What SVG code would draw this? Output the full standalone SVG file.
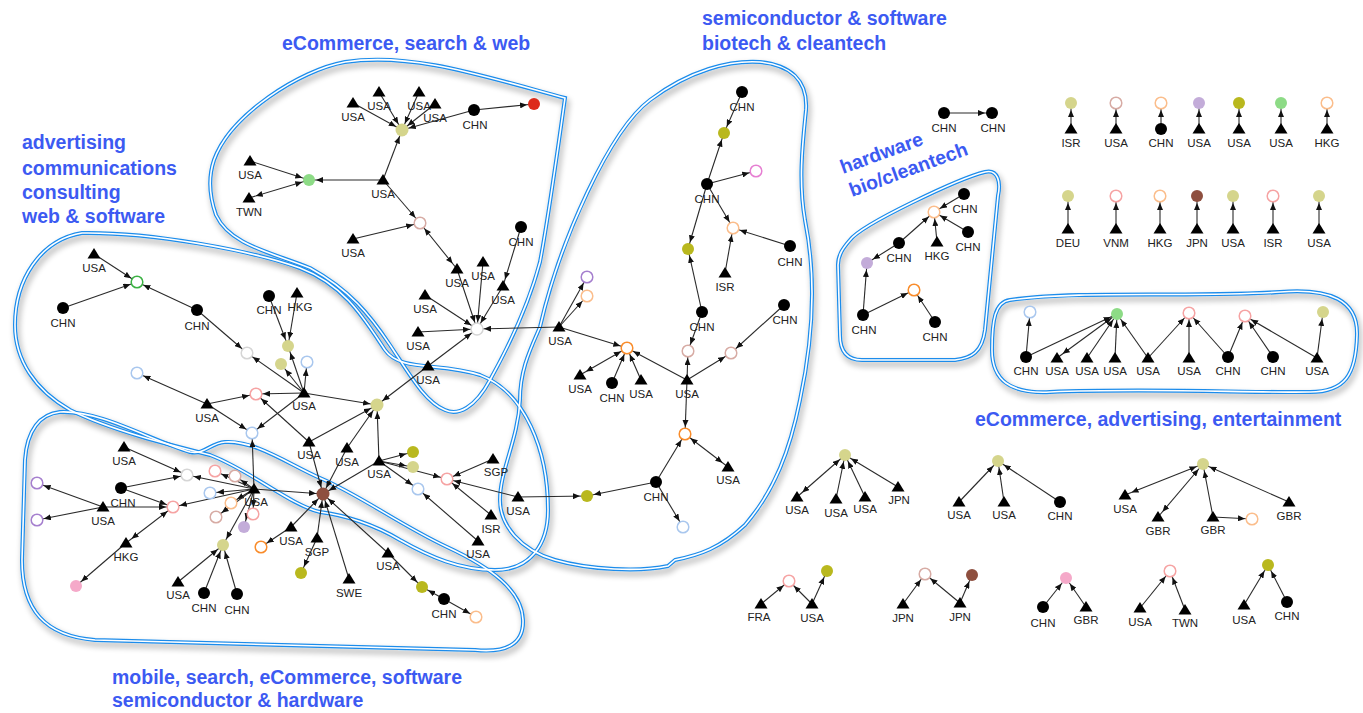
<svg xmlns="http://www.w3.org/2000/svg" xmlns:xlink="http://www.w3.org/1999/xlink" width="1363" height="713" viewBox="0 0 1363 713">
<style>
.ed line{stroke:#2a2a2a;stroke-width:1.1;marker-end:url(#ar)}
.ed line.b{marker-start:url(#ar2)}
.l{font-family:"Liberation Sans",Arial,sans-serif;font-size:11.5px;fill:#222;text-anchor:middle}
.h{font-family:"Liberation Sans",Arial,sans-serif;font-weight:bold;font-size:19.5px;fill:#3c5af2}
.bo{fill:none;stroke:#1b8ceb;stroke-width:4}
.bw{fill:none;stroke:#fff;stroke-width:1.6}
.k{fill:#000}
.r{fill:#fff;stroke-width:1.5}
.kh{fill:#d5d58c}.ol{fill:#b9b81e}.gf{fill:#8ddb86}.rd{fill:#dd2a1a}.br{fill:#8e4f3f}.pf{fill:#f5a9c9}.uf{fill:#c3acd9}
.gr{stroke:#3bb143}.pb{stroke:#d7aba4}.pk{stroke:#f6a3a3}.mg{stroke:#e67fd2}.or{stroke:#f98c2b}.po{stroke:#fbbd8b}.pu{stroke:#a57fce}.bl{stroke:#a9c7ee}.lg{stroke:#d5d5d5}
</style>
<defs>
<marker id="ar" markerUnits="userSpaceOnUse" markerWidth="7" markerHeight="6" refX="14" refY="3" orient="auto"><path d="M0,0 L7,3 L0,6 Z" fill="#111"/></marker>
<marker id="ar2" markerUnits="userSpaceOnUse" markerWidth="7" markerHeight="6" refX="14" refY="3" orient="auto-start-reverse"><path d="M0,0 L7,3 L0,6 Z" fill="#111"/></marker>
<path id="T" d="M0,-6 L6.5,4.5 L-6.5,4.5 Z" fill="#000"/>
<path id="pE" d="M214 160 C230 115 300 70 345 62 C410 52 480 75 565 98 C555 170 548 220 540 262 C530 300 515 335 490 380 C475 408 458 416 445 410 C425 402 410 375 390 345 C370 315 350 290 310 268 C270 252 230 245 216 215 C210 198 208 178 214 160 Z"/>
<path id="pA" d="M82 233 C150 232 250 250 300 268 C345 285 365 320 385 350 C400 372 440 362 480 375 C525 392 548 450 548 510 C548 545 530 570 495 570 C460 570 430 557 400 540 C375 525 345 515 320 512 C290 505 250 470 210 455 C170 445 110 430 70 410 C35 390 15 360 15 325 C15 280 40 240 82 233 Z"/>
<path id="pM" d="M60 412 C100 410 150 440 190 452 C205 455 210 443 225 442 C255 440 290 465 320 478 C360 495 400 525 447 547 C490 567 522 590 523 620 C524 645 505 653 475 650 L95 640 C45 636 22 610 22 560 L25 460 C27 430 40 414 60 412 Z"/>
<path id="pS" d="M540 327 C560 240 610 130 650 100 C690 70 730 60 760 62 C790 65 808 80 806 110 C803 140 798 180 805 220 C815 270 815 330 800 400 C790 450 775 490 745 525 C720 548 700 555 675 560 L668 566 C640 572 590 570 555 560 C520 550 500 525 500 500 C500 470 518 440 520 400 C520 370 530 350 540 327 Z"/>
<path id="pH" d="M850 240 C862 224 960 178 985 172 C998 169 1001 182 998 196 L985 330 C982 352 972 358 955 360 L862 360 C846 360 840 350 840 335 L838 265 C838 255 843 248 850 240 Z"/>
<path id="pX" d="M1010 300 C1080 290 1200 298 1280 292 C1330 288 1358 300 1357 335 C1356 375 1345 392 1310 392 C1250 393 1150 388 1050 392 C1010 394 992 380 992 350 C992 320 995 302 1010 300 Z"/>
<filter id="sh" x="-10%" y="-10%" width="120%" height="120%"><feGaussianBlur in="SourceAlpha" stdDeviation="3"/><feOffset dx="2" dy="4" result="o"/><feComponentTransfer><feFuncA type="linear" slope="0.35"/></feComponentTransfer><feMerge><feMergeNode/><feMergeNode in="SourceGraphic"/></feMerge></filter>
</defs>
<rect width="1363" height="713" fill="#fff"/>

<g id="bubbles">
<g filter="url(#sh)">
<use href="#pE" class="bo"/>
<use href="#pA" class="bo"/>
<use href="#pM" class="bo"/>
<use href="#pS" class="bo"/>
<use href="#pH" class="bo"/>
<use href="#pX" class="bo"/>
</g>
<use href="#pE" class="bw"/>
<use href="#pA" class="bw"/>
<use href="#pM" class="bw"/>
<use href="#pS" class="bw"/>
<use href="#pH" class="bw"/>
<use href="#pX" class="bw"/>
</g>

<g id="headings">
<text class="h" x="282" y="50">eCommerce, search &amp; web</text>
<text class="h" x="702" y="25">semiconductor &amp; software</text>
<text class="h" x="702" y="50">biotech &amp; cleantech</text>
<text class="h" x="22" y="149">advertising</text>
<text class="h" x="22" y="175">communications</text>
<text class="h" x="22" y="199">consulting</text>
<text class="h" x="22" y="223">web &amp; software</text>
<text class="h" x="112" y="684">mobile, search, eCommerce, software</text>
<text class="h" x="112" y="707">semiconductor &amp; hardware</text>
<text class="h" x="975" y="426">eCommerce, advertising, entertainment</text>
<text class="h" x="843" y="174" transform="rotate(-20 843 174)">hardware</text>
<text class="h" x="852" y="197" transform="rotate(-20 852 197)">bio/cleantech</text>
</g>

<g class="ed" id="connectors">
<line x1="353" y1="103" x2="402" y2="130"/>
<line x1="379" y1="92" x2="402" y2="130"/>
<line x1="419" y1="92" x2="402" y2="130"/>
<line x1="435" y1="104" x2="402" y2="130"/>
<line x1="474" y1="110" x2="402" y2="130"/>
<line x1="474" y1="110" x2="534" y2="104"/>
<line x1="383" y1="180" x2="402" y2="130"/>
<line x1="383" y1="180" x2="309" y2="180"/>
<line x1="250" y1="161" x2="309" y2="180"/>
<line class="b" x1="249" y1="198" x2="309" y2="180"/>
<line x1="383" y1="180" x2="420" y2="223"/>
<line x1="353" y1="239" x2="420" y2="223"/>
<line class="b" x1="457" y1="269" x2="420" y2="223"/>
<line x1="521" y1="227" x2="503" y2="286"/>
<line x1="457" y1="269" x2="477" y2="329"/>
<line x1="483" y1="262" x2="477" y2="329"/>
<line x1="503" y1="286" x2="477" y2="329"/>
<line x1="425" y1="295" x2="477" y2="329"/>
<line x1="418" y1="332" x2="477" y2="329"/>
<line x1="428" y1="366" x2="477" y2="329"/>
<line x1="559" y1="327" x2="477" y2="329"/>
<line x1="428" y1="366" x2="377" y2="405"/>

<line x1="94" y1="254" x2="137" y2="282"/>
<line x1="63" y1="308" x2="137" y2="282"/>
<line x1="197" y1="310" x2="137" y2="282"/>
<line x1="197" y1="310" x2="247" y2="353"/>
<line x1="269" y1="296" x2="288" y2="346"/>
<line x1="297" y1="293" x2="288" y2="346"/>
<line x1="304" y1="393" x2="247" y2="353"/>
<line x1="304" y1="393" x2="288" y2="346"/>
<line x1="304" y1="393" x2="281" y2="364"/>
<line x1="304" y1="393" x2="307" y2="362"/>
<line x1="304" y1="393" x2="256" y2="394"/>
<line x1="304" y1="393" x2="377" y2="405"/>
<line x1="304" y1="393" x2="252" y2="433"/>
<line x1="207" y1="404" x2="137" y2="373"/>
<line x1="207" y1="404" x2="256" y2="394"/>
<line x1="207" y1="404" x2="252" y2="433"/>
<line x1="309" y1="442" x2="256" y2="394"/>
<line x1="309" y1="442" x2="377" y2="405"/>
<line x1="347" y1="448" x2="377" y2="405"/>
<line x1="379" y1="461" x2="377" y2="405"/>
<line x1="379" y1="461" x2="413" y2="452"/>
<line x1="379" y1="461" x2="413" y2="467"/>
<line x1="379" y1="461" x2="447" y2="479"/>
<line x1="379" y1="461" x2="418" y2="489"/>
<line x1="493" y1="459" x2="447" y2="479"/>
<line x1="518" y1="497" x2="447" y2="479"/>
<line x1="491" y1="515" x2="447" y2="479"/>
<line x1="478" y1="541" x2="418" y2="489"/>
<line x1="518" y1="497" x2="587" y2="496"/>

<line x1="124" y1="447" x2="187" y2="475"/>
<line x1="121" y1="488" x2="187" y2="475"/>
<line x1="121" y1="488" x2="173" y2="507"/>
<line x1="103" y1="507" x2="37" y2="483"/>
<line x1="103" y1="507" x2="37" y2="520"/>
<line x1="103" y1="507" x2="173" y2="507"/>
<line class="b" x1="126" y1="543" x2="173" y2="507"/>
<line x1="126" y1="543" x2="76" y2="586"/>
<line x1="254" y1="489" x2="252" y2="433"/>
<line x1="254" y1="489" x2="187" y2="475"/>
<line x1="254" y1="489" x2="215" y2="471"/>
<line x1="254" y1="489" x2="235" y2="476"/>
<line x1="254" y1="489" x2="210" y2="493"/>
<line x1="254" y1="489" x2="173" y2="507"/>
<line x1="254" y1="489" x2="231" y2="503"/>
<line x1="254" y1="489" x2="216" y2="517"/>
<line x1="254" y1="489" x2="253" y2="514"/>
<line x1="254" y1="489" x2="244" y2="527"/>
<line x1="254" y1="489" x2="223" y2="545"/>
<line x1="254" y1="489" x2="323" y2="494"/>
<line x1="178" y1="582" x2="223" y2="545"/>
<line x1="204" y1="593" x2="223" y2="545"/>
<line x1="237" y1="594" x2="223" y2="545"/>
<line x1="291" y1="527" x2="261" y2="547"/>
<line x1="291" y1="527" x2="323" y2="494"/>
<line x1="317" y1="538" x2="323" y2="494"/>
<line x1="317" y1="538" x2="301" y2="573"/>
<line x1="349" y1="579" x2="323" y2="494"/>
<line x1="388" y1="553" x2="323" y2="494"/>
<line x1="388" y1="553" x2="422" y2="587"/>
<line x1="444" y1="599" x2="422" y2="587"/>
<line x1="444" y1="599" x2="476" y2="617"/>
<line x1="309" y1="442" x2="323" y2="494"/>
<line x1="347" y1="448" x2="323" y2="494"/>
<line x1="379" y1="461" x2="323" y2="494"/>

<line x1="742" y1="92" x2="724" y2="133"/>
<line x1="707" y1="184" x2="724" y2="133"/>
<line x1="707" y1="184" x2="756" y2="171"/>
<line x1="707" y1="184" x2="733" y2="228"/>
<line x1="707" y1="184" x2="688" y2="249"/>
<line x1="790" y1="246" x2="733" y2="228"/>
<line x1="725" y1="273" x2="733" y2="228"/>
<line x1="702" y1="312" x2="688" y2="249"/>
<line x1="559" y1="327" x2="587" y2="277"/>
<line x1="559" y1="327" x2="587" y2="296"/>
<line x1="559" y1="327" x2="627" y2="348"/>
<line class="b" x1="580" y1="375" x2="627" y2="348"/>
<line x1="612" y1="383" x2="627" y2="348"/>
<line x1="641" y1="380" x2="627" y2="348"/>
<line x1="687" y1="380" x2="627" y2="348"/>
<line x1="687" y1="380" x2="688" y2="351"/>
<line x1="702" y1="312" x2="688" y2="351"/>
<line x1="687" y1="380" x2="731" y2="353"/>
<line x1="784" y1="305" x2="731" y2="353"/>
<line x1="687" y1="380" x2="685" y2="434"/>
<line x1="656" y1="482" x2="685" y2="434"/>
<line class="b" x1="728" y1="467" x2="685" y2="434"/>
<line x1="656" y1="482" x2="587" y2="496"/>
<line x1="656" y1="482" x2="683" y2="527"/>

<line x1="944" y1="113" x2="992" y2="113"/>
<line x1="964" y1="194" x2="934" y2="212"/>
<line x1="968" y1="232" x2="934" y2="212"/>
<line x1="937" y1="242" x2="934" y2="212"/>
<line x1="899" y1="243" x2="934" y2="212"/>
<line x1="899" y1="243" x2="867" y2="263"/>
<line x1="863" y1="315" x2="867" y2="263"/>
<line x1="863" y1="315" x2="914" y2="290"/>
<line x1="935" y1="322" x2="914" y2="290"/>

<line x1="1071" y1="129" x2="1071" y2="103"/>
<line x1="1116" y1="129" x2="1116" y2="103"/>
<line x1="1161" y1="129" x2="1161" y2="103"/>
<line x1="1199" y1="129" x2="1199" y2="103"/>
<line x1="1239" y1="129" x2="1239" y2="103"/>
<line x1="1281" y1="129" x2="1281" y2="103"/>
<line x1="1327" y1="129" x2="1327" y2="103"/>
<line x1="1068" y1="229" x2="1068" y2="196"/>
<line x1="1116" y1="229" x2="1116" y2="196"/>
<line x1="1160" y1="229" x2="1160" y2="196"/>
<line x1="1197" y1="229" x2="1197" y2="196"/>
<line x1="1233" y1="229" x2="1233" y2="196"/>
<line x1="1273" y1="229" x2="1273" y2="196"/>
<line x1="1319" y1="229" x2="1319" y2="196"/>

<line x1="1026" y1="357" x2="1030" y2="312"/>
<line x1="1026" y1="357" x2="1117" y2="314"/>
<line class="b" x1="1057" y1="358" x2="1117" y2="314"/>
<line x1="1087" y1="358" x2="1117" y2="314"/>
<line x1="1115" y1="358" x2="1117" y2="314"/>
<line x1="1148" y1="358" x2="1117" y2="314"/>
<line x1="1148" y1="358" x2="1189" y2="313"/>
<line x1="1189" y1="358" x2="1189" y2="313"/>
<line x1="1228" y1="357" x2="1189" y2="313"/>
<line x1="1228" y1="357" x2="1245" y2="316"/>
<line x1="1273" y1="357" x2="1245" y2="316"/>
<line x1="1317" y1="358" x2="1245" y2="316"/>
<line x1="1317" y1="358" x2="1323" y2="312"/>

<line class="b" x1="797" y1="497" x2="845" y2="455"/>
<line x1="836" y1="499" x2="845" y2="455"/>
<line x1="865" y1="497" x2="845" y2="455"/>
<line x1="898" y1="487" x2="845" y2="455"/>
<line x1="959" y1="502" x2="998" y2="461"/>
<line x1="1004" y1="502" x2="998" y2="461"/>
<line x1="1060" y1="502" x2="998" y2="461"/>
<line class="b" x1="1125" y1="495" x2="1203" y2="464"/>
<line class="b" x1="1158" y1="517" x2="1203" y2="464"/>
<line x1="1213" y1="517" x2="1203" y2="464"/>
<line x1="1213" y1="517" x2="1252" y2="519"/>
<line x1="1289" y1="502" x2="1203" y2="464"/>
<line x1="761" y1="604" x2="789" y2="581"/>
<line x1="812" y1="604" x2="789" y2="581"/>
<line x1="812" y1="604" x2="827" y2="571"/>
<line x1="903" y1="604" x2="925" y2="574"/>
<line x1="960" y1="603" x2="925" y2="574"/>
<line x1="960" y1="603" x2="972" y2="575"/>
<line x1="1043" y1="607" x2="1066" y2="578"/>
<line x1="1086" y1="607" x2="1066" y2="578"/>
<line x1="1140" y1="608" x2="1170" y2="571"/>
<line x1="1185" y1="610" x2="1170" y2="571"/>
<line x1="1244" y1="605" x2="1268" y2="565"/>
<line x1="1287" y1="602" x2="1268" y2="565"/>
</g>

<g id="nodes">
<g id="e1"><use href="#T" x="353" y="103"/><text class="l" x="353" y="121">USA</text></g>
<g id="e2"><use href="#T" x="379" y="92"/><text class="l" x="379" y="110">USA</text></g>
<g id="e3"><use href="#T" x="419" y="92"/><text class="l" x="419" y="110">USA</text></g>
<g id="e4"><use href="#T" x="435" y="104"/><text class="l" x="435" y="122">USA</text></g>
<g id="e5"><circle class="k" cx="474" cy="110" r="6"/><text class="l" x="475" y="129">CHN</text></g>
<g id="e6"><circle class="rd" cx="534" cy="104" r="6"/></g>
<g id="e7"><circle class="kh" cx="402" cy="130" r="6.5"/></g>
<g id="e8"><use href="#T" x="383" y="180"/><text class="l" x="383" y="198">USA</text></g>
<g id="e9"><circle class="gf" cx="309" cy="180" r="6"/></g>
<g id="e10"><use href="#T" x="250" y="161"/><text class="l" x="250" y="179">USA</text></g>
<g id="e11"><use href="#T" x="249" y="198"/><text class="l" x="249" y="216">TWN</text></g>
<g id="e12"><circle class="r pb" cx="420" cy="223" r="5.8"/></g>
<g id="e13"><use href="#T" x="353" y="239"/><text class="l" x="353" y="257">USA</text></g>
<g id="e14"><circle class="k" cx="521" cy="227" r="6"/><text class="l" x="521" y="246">CHN</text></g>
<g id="e15"><use href="#T" x="457" y="269"/><text class="l" x="457" y="287">USA</text></g>
<g id="e16"><use href="#T" x="483" y="262"/><text class="l" x="483" y="280">USA</text></g>
<g id="e17"><use href="#T" x="503" y="286"/><text class="l" x="503" y="304">USA</text></g>
<g id="e18"><use href="#T" x="425" y="295"/><text class="l" x="425" y="313">USA</text></g>
<g id="e19"><use href="#T" x="418" y="332"/><text class="l" x="418" y="350">USA</text></g>
<g id="e20"><circle class="r lg" cx="477" cy="329" r="6"/></g>
<g id="e21"><use href="#T" x="428" y="366"/><text class="l" x="428" y="384">USA</text></g>

<g id="a1"><use href="#T" x="94" y="254"/><text class="l" x="94" y="272">USA</text></g>
<g id="a2"><circle class="r gr" cx="137" cy="282" r="5.8"/></g>
<g id="a3"><circle class="k" cx="63" cy="308" r="6"/><text class="l" x="63" y="327">CHN</text></g>
<g id="a4"><circle class="k" cx="197" cy="310" r="6"/><text class="l" x="197" y="330">CHN</text></g>
<g id="a5"><circle class="r lg" cx="247" cy="353" r="5.8"/></g>
<g id="a6"><circle class="k" cx="269" cy="296" r="6"/><text class="l" x="269" y="314">CHN</text></g>
<g id="a7"><use href="#T" x="297" y="293"/><text class="l" x="300" y="311">HKG</text></g>
<g id="a8"><circle class="kh" cx="288" cy="346" r="6"/></g>
<g id="a9"><circle class="kh" cx="281" cy="364" r="6"/></g>
<g id="a10"><circle class="r bl" cx="307" cy="362" r="5.8"/></g>
<g id="a11"><circle class="r bl" cx="137" cy="373" r="5.8"/></g>
<g id="a12"><use href="#T" x="207" y="404"/><text class="l" x="207" y="422">USA</text></g>
<g id="a13"><circle class="r pk" cx="256" cy="394" r="5.8"/></g>
<g id="a14"><use href="#T" x="304" y="393"/><text class="l" x="304" y="410">USA</text></g>
<g id="a15"><circle class="kh" cx="377" cy="405" r="6.5"/></g>
<g id="a16"><circle class="r bl" cx="252" cy="433" r="5.8"/></g>
<g id="a17"><use href="#T" x="309" y="442"/><text class="l" x="309" y="459">USA</text></g>
<g id="a18"><use href="#T" x="347" y="448"/><text class="l" x="347" y="466">USA</text></g>
<g id="a19"><use href="#T" x="379" y="461"/><text class="l" x="379" y="478">USA</text></g>
<g id="a20"><circle class="ol" cx="413" cy="452" r="6"/></g>
<g id="a21"><circle class="kh" cx="413" cy="467" r="6"/></g>
<g id="a22"><circle class="r pk" cx="447" cy="479" r="5.8"/></g>
<g id="a23"><use href="#T" x="493" y="459"/><text class="l" x="496" y="476">SGP</text></g>
<g id="a24"><circle class="r bl" cx="418" cy="489" r="5.8"/></g>
<g id="a25"><use href="#T" x="518" y="497"/><text class="l" x="518" y="515">USA</text></g>
<g id="a26"><use href="#T" x="491" y="515"/><text class="l" x="491" y="533">ISR</text></g>
<g id="a27"><use href="#T" x="478" y="541"/><text class="l" x="478" y="558">USA</text></g>

<g id="m2"><use href="#T" x="124" y="447"/><text class="l" x="124" y="465">USA</text></g>
<g id="m3"><circle class="r lg" cx="187" cy="475" r="5.8"/></g>
<g id="m4"><circle class="r pk" cx="215" cy="471" r="5.8"/></g>
<g id="m5"><circle class="r pb" cx="235" cy="476" r="5.8"/></g>
<g id="m6"><circle class="k" cx="121" cy="488" r="6"/><text class="l" x="123" y="507">CHN</text></g>
<g id="m7"><circle class="r bl" cx="210" cy="493" r="5.8"/></g>
<g id="m8"><circle class="r po" cx="231" cy="503" r="5.8"/></g>
<g id="m9"><circle class="r pk" cx="173" cy="507" r="5.8"/></g>
<g id="m10"><circle class="r pu" cx="37" cy="483" r="5.8"/></g>
<g id="m11"><circle class="r pu" cx="37" cy="520" r="5.8"/></g>
<g id="m12"><use href="#T" x="103" y="507"/><text class="l" x="103" y="525">USA</text></g>
<g id="m13"><circle class="r pb" cx="216" cy="517" r="5.8"/></g>
<g id="m14"><circle class="r pk" cx="253" cy="514" r="5.8"/></g>
<g id="m15"><circle class="uf" cx="244" cy="527" r="6"/></g>
<g id="m16"><circle class="kh" cx="223" cy="545" r="6"/></g>
<g id="m17"><circle class="r or" cx="261" cy="547" r="5.8"/></g>
<g id="m1"><use href="#T" x="254" y="489"/><text class="l" x="256" y="506">USA</text></g>
<g id="m18"><use href="#T" x="291" y="527"/><text class="l" x="291" y="545">USA</text></g>
<g id="m19"><use href="#T" x="126" y="543"/><text class="l" x="126" y="561">HKG</text></g>
<g id="m20"><circle class="pf" cx="76" cy="586" r="6"/></g>
<g id="m21"><use href="#T" x="178" y="582"/><text class="l" x="178" y="599">USA</text></g>
<g id="m22"><circle class="k" cx="204" cy="593" r="6"/><text class="l" x="204" y="612">CHN</text></g>
<g id="m23"><circle class="k" cx="237" cy="594" r="6"/><text class="l" x="237" y="614">CHN</text></g>
<g id="m24"><circle class="br" cx="323" cy="494" r="6.5"/></g>
<g id="m25"><use href="#T" x="317" y="538"/><text class="l" x="317" y="556">SGP</text></g>
<g id="m26"><circle class="ol" cx="301" cy="573" r="6"/></g>
<g id="m27"><use href="#T" x="349" y="579"/><text class="l" x="349" y="597">SWE</text></g>
<g id="m28"><use href="#T" x="388" y="553"/><text class="l" x="388" y="570">USA</text></g>
<g id="m29"><circle class="ol" cx="422" cy="587" r="6"/></g>
<g id="m30"><circle class="k" cx="444" cy="599" r="6"/><text class="l" x="444" y="618">CHN</text></g>
<g id="m31"><circle class="r po" cx="476" cy="617" r="5.8"/></g>

<g id="s1"><circle class="k" cx="742" cy="92" r="6"/><text class="l" x="742" y="111">CHN</text></g>
<g id="s2"><circle class="ol" cx="724" cy="133" r="6"/></g>
<g id="s3"><circle class="r mg" cx="756" cy="171" r="5.8"/></g>
<g id="s4"><circle class="k" cx="707" cy="184" r="6"/><text class="l" x="707" y="203">CHN</text></g>
<g id="s5"><circle class="r po" cx="733" cy="228" r="5.8"/></g>
<g id="s6"><circle class="ol" cx="688" cy="249" r="6"/></g>
<g id="s7"><circle class="k" cx="790" cy="246" r="6"/><text class="l" x="790" y="266">CHN</text></g>
<g id="s8"><use href="#T" x="725" y="273"/><text class="l" x="725" y="291">ISR</text></g>
<g id="s9"><circle class="r pu" cx="587" cy="277" r="5.8"/></g>
<g id="s10"><circle class="r po" cx="587" cy="296" r="5.8"/></g>
<g id="s11"><use href="#T" x="559" y="327"/><text class="l" x="560" y="345">USA</text></g>
<g id="s12"><circle class="k" cx="702" cy="312" r="6"/><text class="l" x="702" y="331">CHN</text></g>
<g id="s13"><circle class="k" cx="784" cy="305" r="6"/><text class="l" x="785" y="324">CHN</text></g>
<g id="s14"><circle class="r or" cx="627" cy="348" r="5.8"/></g>
<g id="s15"><circle class="r pb" cx="688" cy="351" r="5.8"/></g>
<g id="s16"><circle class="r pb" cx="731" cy="353" r="5.8"/></g>
<g id="s17"><use href="#T" x="580" y="375"/><text class="l" x="580" y="393">USA</text></g>
<g id="s18"><circle class="k" cx="612" cy="383" r="6"/><text class="l" x="612" y="402">CHN</text></g>
<g id="s19"><use href="#T" x="641" y="380"/><text class="l" x="641" y="398">USA</text></g>
<g id="s20"><use href="#T" x="687" y="380"/><text class="l" x="687" y="398">USA</text></g>
<g id="s21"><circle class="r or" cx="685" cy="434" r="5.8"/></g>
<g id="s22"><use href="#T" x="728" y="467"/><text class="l" x="728" y="484">USA</text></g>
<g id="s23"><circle class="k" cx="656" cy="482" r="6"/><text class="l" x="656" y="501">CHN</text></g>
<g id="s24"><circle class="ol" cx="587" cy="496" r="6"/></g>
<g id="s25"><circle class="r bl" cx="683" cy="527" r="5.8"/></g>

<g id="p1"><circle class="k" cx="944" cy="113" r="6"/><text class="l" x="944" y="132">CHN</text></g>
<g id="p2"><circle class="k" cx="992" cy="113" r="6"/><text class="l" x="993" y="132">CHN</text></g>

<g id="h1"><circle class="r po" cx="934" cy="212" r="5.8"/></g>
<g id="h2"><circle class="k" cx="964" cy="194" r="6"/><text class="l" x="965" y="213">CHN</text></g>
<g id="h3"><circle class="k" cx="968" cy="232" r="6"/><text class="l" x="968" y="251">CHN</text></g>
<g id="h4"><use href="#T" x="937" y="242"/><text class="l" x="937" y="260">HKG</text></g>
<g id="h5"><circle class="k" cx="899" cy="243" r="6"/><text class="l" x="899" y="262">CHN</text></g>
<g id="h6"><circle class="uf" cx="867" cy="263" r="6"/></g>
<g id="h7"><circle class="k" cx="863" cy="315" r="6"/><text class="l" x="864" y="334">CHN</text></g>
<g id="h8"><circle class="r or" cx="914" cy="290" r="5.8"/></g>
<g id="h9"><circle class="k" cx="935" cy="322" r="6"/><text class="l" x="935" y="341">CHN</text></g>

<g id="t1"><circle class="kh" cx="1071" cy="103" r="6"/><use href="#T" x="1071" y="129"/><text class="l" x="1071" y="147">ISR</text></g>
<g id="t2"><circle class="r pb" cx="1116" cy="103" r="5.8"/><use href="#T" x="1116" y="129"/><text class="l" x="1116" y="147">USA</text></g>
<g id="t3"><circle class="r po" cx="1161" cy="103" r="5.8"/><circle class="k" cx="1161" cy="129" r="6"/><text class="l" x="1161" y="147">CHN</text></g>
<g id="t4"><circle class="uf" cx="1199" cy="103" r="6"/><use href="#T" x="1199" y="129"/><text class="l" x="1199" y="147">USA</text></g>
<g id="t5"><circle class="ol" cx="1239" cy="103" r="6"/><use href="#T" x="1239" y="129"/><text class="l" x="1239" y="147">USA</text></g>
<g id="t6"><circle class="gf" cx="1281" cy="103" r="6"/><use href="#T" x="1281" y="129"/><text class="l" x="1281" y="147">USA</text></g>
<g id="t7"><circle class="r po" cx="1327" cy="103" r="5.8"/><use href="#T" x="1327" y="129"/><text class="l" x="1327" y="147">HKG</text></g>
<g id="u1"><circle class="kh" cx="1068" cy="196" r="6"/><use href="#T" x="1068" y="229"/><text class="l" x="1068" y="247">DEU</text></g>
<g id="u2"><circle class="r pk" cx="1116" cy="196" r="5.8"/><use href="#T" x="1116" y="229"/><text class="l" x="1116" y="247">VNM</text></g>
<g id="u3"><circle class="r po" cx="1160" cy="196" r="5.8"/><use href="#T" x="1160" y="229"/><text class="l" x="1160" y="247">HKG</text></g>
<g id="u4"><circle class="br" cx="1197" cy="196" r="6"/><use href="#T" x="1197" y="229"/><text class="l" x="1197" y="247">JPN</text></g>
<g id="u5"><circle class="kh" cx="1233" cy="196" r="6"/><use href="#T" x="1233" y="229"/><text class="l" x="1233" y="247">USA</text></g>
<g id="u6"><circle class="r pk" cx="1273" cy="196" r="5.8"/><use href="#T" x="1273" y="229"/><text class="l" x="1273" y="247">ISR</text></g>
<g id="u7"><circle class="kh" cx="1319" cy="196" r="6"/><use href="#T" x="1319" y="229"/><text class="l" x="1319" y="247">USA</text></g>

<g id="x1"><circle class="r bl" cx="1030" cy="312" r="5.8"/></g>
<g id="x2"><circle class="gf" cx="1117" cy="314" r="6"/></g>
<g id="x3"><circle class="r pk" cx="1189" cy="313" r="5.8"/></g>
<g id="x4"><circle class="r pk" cx="1245" cy="316" r="5.8"/></g>
<g id="x5"><circle class="kh" cx="1323" cy="312" r="6"/></g>
<g id="y1"><circle class="k" cx="1026" cy="357" r="6"/><text class="l" x="1026" y="375">CHN</text></g>
<g id="y2"><use href="#T" x="1057" y="358"/><text class="l" x="1057" y="375">USA</text></g>
<g id="y3"><use href="#T" x="1087" y="358"/><text class="l" x="1087" y="375">USA</text></g>
<g id="y4"><use href="#T" x="1115" y="358"/><text class="l" x="1115" y="375">USA</text></g>
<g id="y5"><use href="#T" x="1148" y="358"/><text class="l" x="1148" y="375">USA</text></g>
<g id="y6"><use href="#T" x="1189" y="358"/><text class="l" x="1189" y="375">USA</text></g>
<g id="y7"><circle class="k" cx="1228" cy="357" r="6"/><text class="l" x="1228" y="375">CHN</text></g>
<g id="y8"><circle class="k" cx="1273" cy="357" r="6"/><text class="l" x="1273" y="375">CHN</text></g>
<g id="y9"><use href="#T" x="1317" y="358"/><text class="l" x="1317" y="375">USA</text></g>

<g id="g1k"><circle class="kh" cx="845" cy="455" r="6"/></g>
<g id="g1a"><use href="#T" x="797" y="497"/><text class="l" x="797" y="514">USA</text></g>
<g id="g1b"><use href="#T" x="836" y="499"/><text class="l" x="836" y="517">USA</text></g>
<g id="g1c"><use href="#T" x="865" y="497"/><text class="l" x="865" y="513">USA</text></g>
<g id="g1d"><use href="#T" x="898" y="487"/><text class="l" x="899" y="504">JPN</text></g>
<g id="g2k"><circle class="kh" cx="998" cy="461" r="6"/></g>
<g id="g2a"><use href="#T" x="959" y="502"/><text class="l" x="959" y="519">USA</text></g>
<g id="g2b"><use href="#T" x="1004" y="502"/><text class="l" x="1004" y="519">USA</text></g>
<g id="g2c"><circle class="k" cx="1060" cy="502" r="6"/><text class="l" x="1060" y="520">CHN</text></g>
<g id="g3k"><circle class="kh" cx="1203" cy="464" r="6"/></g>
<g id="g3a"><use href="#T" x="1125" y="495"/><text class="l" x="1125" y="513">USA</text></g>
<g id="g3b"><use href="#T" x="1158" y="517"/><text class="l" x="1158" y="535">GBR</text></g>
<g id="g3c"><use href="#T" x="1213" y="517"/><text class="l" x="1213" y="534">GBR</text></g>
<g id="g3d"><circle class="r po" cx="1252" cy="519" r="5.8"/></g>
<g id="g3e"><use href="#T" x="1289" y="502"/><text class="l" x="1289" y="520">GBR</text></g>
<g id="r1a"><circle class="r pk" cx="789" cy="581" r="5.8"/></g>
<g id="r1b"><circle class="ol" cx="827" cy="571" r="6"/></g>
<g id="r1c"><use href="#T" x="761" y="604"/><text class="l" x="759" y="621">FRA</text></g>
<g id="r1d"><use href="#T" x="812" y="604"/><text class="l" x="812" y="622">USA</text></g>
<g id="r2a"><circle class="r pb" cx="925" cy="574" r="5.8"/></g>
<g id="r2b"><circle class="br" cx="972" cy="575" r="6"/></g>
<g id="r2c"><use href="#T" x="903" y="604"/><text class="l" x="903" y="622">JPN</text></g>
<g id="r2d"><use href="#T" x="960" y="603"/><text class="l" x="960" y="621">JPN</text></g>
<g id="r3a"><circle class="pf" cx="1066" cy="578" r="6"/></g>
<g id="r3b"><circle class="k" cx="1043" cy="607" r="6"/><text class="l" x="1043" y="627">CHN</text></g>
<g id="r3c"><use href="#T" x="1086" y="607"/><text class="l" x="1086" y="624">GBR</text></g>
<g id="r4a"><circle class="r pk" cx="1170" cy="571" r="5.8"/></g>
<g id="r4b"><use href="#T" x="1140" y="608"/><text class="l" x="1140" y="626">USA</text></g>
<g id="r4c"><use href="#T" x="1185" y="610"/><text class="l" x="1185" y="627">TWN</text></g>
<g id="r5a"><circle class="ol" cx="1268" cy="565" r="6"/></g>
<g id="r5b"><use href="#T" x="1244" y="605"/><text class="l" x="1244" y="624">USA</text></g>
<g id="r5c"><circle class="k" cx="1287" cy="602" r="6"/><text class="l" x="1287" y="620">CHN</text></g>
</g>
</svg>
